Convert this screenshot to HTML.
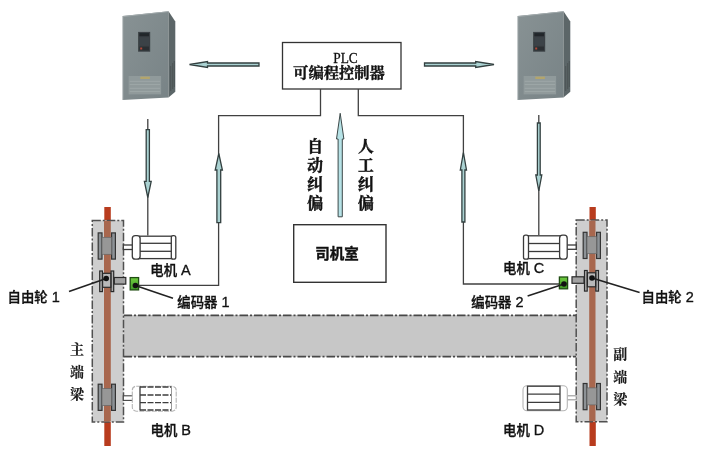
<!DOCTYPE html>
<html><head><meta charset="utf-8">
<style>
html,body{margin:0;padding:0;background:#fff;}
body{width:705px;height:455px;overflow:hidden;}
svg{display:block;filter:blur(0.45px);}
.hei{font-family:"Liberation Sans","Noto Sans CJK SC",sans-serif;}
.song{font-family:"Liberation Serif","Noto Serif CJK SC",serif;}
</style></head><body>
<svg width="705" height="455" viewBox="0 0 705 455">
<defs>
<filter id="b1" x="-5%" y="-5%" width="110%" height="110%"><feGaussianBlur stdDeviation="0.45"/></filter>
<linearGradient id="vg" x1="0" y1="0" x2="1" y2="1"><stop offset="0" stop-color="#889294"/><stop offset="1" stop-color="#788386"/></linearGradient>
<g id="vfd">
  <polygon points="0,5 45.8,0.2 45.8,86.6 0,89" fill="url(#vg)"/>
  <polygon points="45.8,0.2 52.6,10.5 52.6,80.8 45.8,86.6" fill="#5c6668"/>
  <polygon points="0,5 45.8,0.2 46.2,1 0.4,5.9" fill="#a3abad"/>
  <line x1="0.4" y1="5" x2="0.4" y2="89" stroke="#9aa2a4" stroke-width="0.8"/>
  <rect x="15.4" y="20.9" width="12.1" height="19.8" fill="#3b4145"/>
  <rect x="16.6" y="22.1" width="9.7" height="3.2" fill="#23282c"/>
  <rect x="16.6" y="26.5" width="9.7" height="8" fill="#3a4246"/>
  <rect x="16.6" y="35.5" width="9.7" height="4" fill="#2a2f33"/>
  <rect x="17.5" y="36.5" width="2" height="2" fill="#b04838"/>
  <rect x="5.9" y="65" width="32.5" height="18.4" fill="#909a9b"/>
  <rect x="17.6" y="65.6" width="9.6" height="2.4" fill="#b3a56c"/>
  <line x1="7" y1="70.3" x2="37.5" y2="70.3" stroke="#a3adae" stroke-width="0.7"/>
  <line x1="7" y1="73.6" x2="37.5" y2="73.6" stroke="#a3adae" stroke-width="0.7"/>
  <line x1="7" y1="77.3" x2="37.5" y2="77.3" stroke="#a3adae" stroke-width="0.7"/>
  <line x1="7" y1="80.6" x2="37.5" y2="80.6" stroke="#a3adae" stroke-width="0.7"/>
  <g stroke="#454c4e" stroke-width="0.7"><line x1="48" y1="55" x2="48" y2="80"/><line x1="50" y1="52" x2="50" y2="78"/><line x1="51.6" y1="50" x2="51.6" y2="76"/></g>
</g>
</defs>
<rect width="705" height="455" fill="#fff"/>

<!-- VFDs -->
<g filter="url(#b1)">
<use href="#vfd" x="122.7" y="11"/>
<use href="#vfd" x="517.7" y="11"/>
</g>

<!-- PLC box -->
<rect x="282.5" y="42.5" width="118.5" height="46.5" fill="#fff" stroke="#333" stroke-width="1.3"/>
<text class="song" x="345.5" y="63" font-size="14.5" text-anchor="middle" fill="#111" textLength="24.5" lengthAdjust="spacingAndGlyphs" stroke="#111" stroke-width="0.3">PLC</text>
<text class="song" x="339" y="78" font-size="15.3" font-weight="bold" text-anchor="middle" fill="#111" stroke="#111" stroke-width="0.35">可编程控制器</text>

<!-- signal lines -->
<g fill="none" stroke="#404040" stroke-width="1.3">
<polyline points="320.5,89 320.5,115.7 218.6,115.7 218.6,285.3 139,285.3"/>
<polyline points="358.3,89 358.3,115.7 463.4,115.7 463.4,284 560,284"/>
<line x1="147.8" y1="119" x2="147.8" y2="235.5"/>
<line x1="538.8" y1="115" x2="538.8" y2="235"/>
</g>

<!-- arrows -->
<g fill="#aad2d2" stroke="#334040" stroke-width="1.3" stroke-linejoin="miter">
<!-- center up -->
<polygon fill="#b6e2e6" stroke="#3c4848" stroke-width="1" points="340.2,113.3 343.9,139.0 342.3,139.0 342.3,216.8 338.1,216.8 338.1,139.0 336.5,139.0"/>
<!-- left horiz -->
<polygon points="189.5,64.5 207.5,61.5 207.5,63.0 259.0,63.0 259.0,66.0 207.5,66.0 207.5,67.5"/>
<!-- right horiz -->
<polygon points="494.0,64.5 475.7,61.5 475.7,63.0 424.5,63.0 424.5,66.0 475.7,66.0 475.7,67.5"/>
<!-- left down -->
<polygon points="147.8,197.5 151.2,181.4 149.4,181.4 149.4,129.6 146.2,129.6 146.2,181.4 144.4,181.4"/>
<!-- right down -->
<polygon points="538.8,191.0 541.8,175.0 540.2,175.0 540.2,123.0 537.4,123.0 537.4,175.0 535.8,175.0"/>
<!-- left up -->
<polygon points="218.8,153.5 222.4,170.0 220.7,170.0 220.7,222.6 216.9,222.6 216.9,170.0 215.2,170.0"/>
<!-- right up -->
<polygon points="463.4,152.5 466.5,170.0 464.9,170.0 464.9,222.0 461.9,222.0 461.9,170.0 460.3,170.0"/>
</g>

<!-- vertical labels -->
<g class="song" font-size="15.8" font-weight="bold" text-anchor="middle" fill="#111" stroke="#111" stroke-width="0.45">
<text x="315.2" y="152">自</text><text x="315.2" y="171">动</text><text x="315.2" y="190">纠</text><text x="315.2" y="209">偏</text>
<text x="366" y="152">人</text><text x="366" y="171">工</text><text x="366" y="190">纠</text><text x="366" y="209">偏</text>
</g>

<!-- cab box -->
<rect x="293.7" y="224.7" width="92.3" height="57.6" fill="#fff" stroke="#333" stroke-width="1.4"/>
<text class="hei" x="337" y="259.4" font-size="14.5" font-weight="bold" text-anchor="middle" fill="#111" stroke="#111" stroke-width="0.4">司机室</text>

<!-- rails top/bottom (bright) -->
<rect x="104.3" y="207" width="6.5" height="239" fill="#b83c1e"/>
<rect x="589.5" y="207" width="6.3" height="239" fill="#b83c1e"/>

<!-- main beam -->
<rect x="123.5" y="315" width="452.7" height="41.8" fill="#c7c7c7"/>
<line x1="123.5" y1="315.4" x2="576.2" y2="315.4" stroke="#484848" stroke-width="1.9" stroke-dasharray="8.5 2 2 2"/>
<line x1="123.5" y1="356.6" x2="576.2" y2="356.6" stroke="#484848" stroke-width="1.9" stroke-dasharray="8.5 2 2 2"/>

<!-- end beams -->
<rect x="92.3" y="220.4" width="31.2" height="201.6" fill="#cecece" stroke="#505050" stroke-width="1.5" stroke-dasharray="8.5 2 2 2"/>
<rect x="576.2" y="220" width="30.8" height="201.7" fill="#cecece" stroke="#505050" stroke-width="1.5" stroke-dasharray="8.5 2 2 2"/>
<rect x="104" y="221" width="6.8" height="200.5" fill="#a8674e"/>
<rect x="589.2" y="220.5" width="6.3" height="200.7" fill="#a8674e"/>

<!-- wheels -->
<g id="wheelL1">
<rect x="98.2" y="232.9" width="3.8" height="26.2" fill="#8d9296" stroke="#333" stroke-width="1.2"/>
<rect x="111.6" y="232.9" width="3.8" height="26.2" fill="#8d9296" stroke="#333" stroke-width="1.2"/>
<rect x="102" y="237.3" width="9.6" height="17" fill="#979797" stroke="#666" stroke-width="0.7"/>
</g>
<use href="#wheelL1" y="151.3"/>
<use href="#wheelL1" x="485" y="-0.6"/>
<use href="#wheelL1" x="485" y="150.6"/>

<!-- free wheels -->
<g id="fw">
<rect x="99.7" y="271" width="2.7" height="20.6" fill="#b0b0b0" stroke="#2a2a2a" stroke-width="1.2"/>
<rect x="111" y="271" width="2.7" height="20.6" fill="#b0b0b0" stroke="#2a2a2a" stroke-width="1.2"/>
<rect x="102.6" y="273.3" width="8.2" height="14" fill="#b8b8b8" stroke="#2a2a2a" stroke-width="1.2"/>
</g>
<rect x="114.3" y="277.5" width="11.5" height="6.6" fill="#a2a2a2" stroke="#2a2a2a" stroke-width="1.2"/>
<use href="#fw" x="484.8" y="-0.5"/>
<rect x="572" y="276.8" width="12" height="6.5" fill="#a2a2a2" stroke="#2a2a2a" stroke-width="1.2"/>

<!-- encoders -->
<linearGradient id="eg" x1="0" y1="0" x2="0" y2="1"><stop offset="0" stop-color="#70cc40"/><stop offset="1" stop-color="#3f9a28"/></linearGradient>
<rect x="130.2" y="277.6" width="8.4" height="12.3" fill="url(#eg)" stroke="#1f4d12" stroke-width="1.3"/>
<rect x="559.4" y="277" width="8.2" height="11.8" fill="url(#eg)" stroke="#1f4d12" stroke-width="1.3"/>

<!-- motors A / C -->
<g fill="#fff" stroke="#3a3a3a" stroke-width="1.3">
<rect x="123.3" y="245" width="9.5" height="4.5"/>
<rect x="139.5" y="236.2" width="33" height="22.4"/>
<rect x="132.3" y="235.6" width="7.8" height="23.6" rx="3"/>
<rect x="171.3" y="235.6" width="4.5" height="23.6" rx="2"/>
<line x1="140" y1="243.3" x2="171.3" y2="243.3"/><line x1="140" y1="251.3" x2="171.3" y2="251.3"/>
<rect x="566.5" y="245" width="9.7" height="4.3"/>
<rect x="528" y="235.8" width="32.5" height="22.8"/>
<rect x="559.6" y="235.2" width="7.6" height="24" rx="3"/>
<rect x="523.5" y="235.2" width="5" height="24" rx="2"/>
<line x1="528.5" y1="243.5" x2="559.6" y2="243.5"/><line x1="528.5" y1="251.5" x2="559.6" y2="251.5"/>
</g>
<!-- motors B / D -->
<g fill="#fff">
<rect x="123.3" y="395.8" width="9.5" height="4.6" stroke="#444" stroke-width="1.1"/>
<rect x="132.3" y="386.2" width="43.9" height="25" rx="4" stroke="#b5b5b5" stroke-width="1.1" stroke-dasharray="5 1.2"/>
<g stroke="#3c3c3c" stroke-width="1.3" fill="none">
<line x1="140" y1="386.5" x2="140" y2="410.6"/>
<line x1="140" y1="387" x2="171.5" y2="387" stroke-dasharray="6 1.5"/><line x1="140" y1="395" x2="171.5" y2="395" stroke-dasharray="6 1.5"/><line x1="140" y1="402.7" x2="171.5" y2="402.7" stroke-dasharray="6 1.5"/><line x1="140" y1="410" x2="171.5" y2="410" stroke-dasharray="6 1.5"/>
<line x1="171.5" y1="387" x2="171.5" y2="410" stroke="#999" stroke-width="1"/>
</g>
<rect x="566.8" y="395.8" width="9.4" height="4" stroke="#999" stroke-width="1.1"/>
<rect x="523" y="385.7" width="44.3" height="25" rx="4" stroke="#b5b5b5" stroke-width="1.1"/>
<g stroke="#3c3c3c" stroke-width="1.3" fill="none">
<rect x="527.5" y="386.2" width="32.5" height="23.8"/>
<line x1="527.5" y1="394.2" x2="560" y2="394.2"/><line x1="527.5" y1="402.4" x2="560" y2="402.4"/>
</g>
</g>
<!-- leader lines + dots -->
<g stroke="#222" stroke-width="1.6" fill="#111">
<line x1="106.2" y1="278.5" x2="69" y2="291.4"/>
<line x1="135.4" y1="285.5" x2="173" y2="298.3"/>
<line x1="592" y1="278" x2="639.6" y2="292.5"/>
<line x1="564" y1="284" x2="527.6" y2="296"/>
<circle cx="106.2" cy="278.5" r="2.8" stroke="none"/>
<circle cx="135.4" cy="285.5" r="2.8" stroke="none"/>
<circle cx="592" cy="278" r="2.8" stroke="none"/>
<circle cx="564" cy="284" r="2.8" stroke="none"/>
</g>

<!-- labels -->
<g class="hei" font-size="13.4" font-weight="500" fill="#111" stroke="#111" stroke-width="0.32">
<text x="150.3" y="275.3">电机<tspan font-size="14.5" dx="4">A</tspan></text>
<text x="177.3" y="307">编码器<tspan font-size="14.5" dx="4">1</tspan></text>
<text x="7.5" y="302">自由轮<tspan font-size="14.5" dx="4">1</tspan></text>
<text x="150.5" y="435">电机<tspan font-size="14.5" dx="4">B</tspan></text>
<text x="503" y="273.3">电机<tspan font-size="14.5" dx="4">C</tspan></text>
<text x="471.3" y="307">编码器<tspan font-size="14.5" dx="4">2</tspan></text>
<text x="641.6" y="302.3">自由轮<tspan font-size="14.5" dx="4">2</tspan></text>
<text x="503" y="434.5">电机<tspan font-size="14.5" dx="4">D</tspan></text>
</g>
<g class="song" font-size="14" font-weight="700" fill="#1a1a1a" text-anchor="middle" stroke="#1a1a1a" stroke-width="0.15">
<text x="77" y="353.9">主</text><text x="77" y="376.8">端</text><text x="77" y="399.1">梁</text>
<text x="620.3" y="359">副</text><text x="620.3" y="381.7">端</text><text x="620.3" y="404.3">梁</text>
</g>
</svg>
</body></html>
